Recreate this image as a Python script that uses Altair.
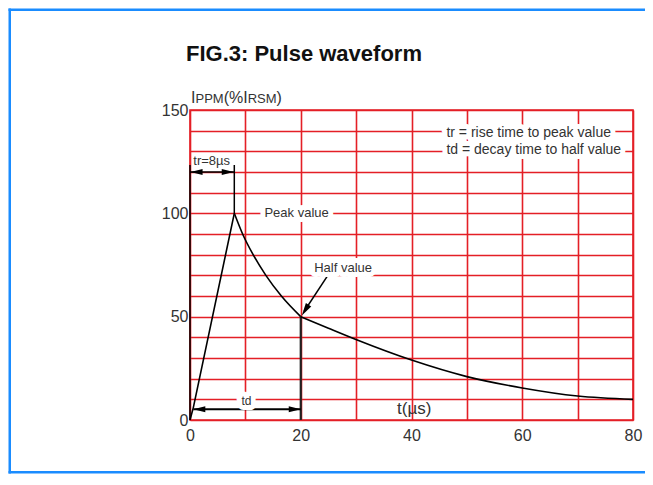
import altair as alt
import pandas as pd

FONT = "Liberation Sans"
RED = "#e41f26"
INK = "#333333"
BLUE = "#1a8cff"

# ---- data ----
rise_t = [0, 0.6, 8]
rise_v = [0, 6, 100]
decay1_t = [8, 9.5, 11.4, 13.7, 16.5, 20]
decay1_v = [100, 90, 80, 70, 60, 50]
decay2_t = [20, 25, 30.2, 40, 50, 60, 70, 80]
decay2_v = [50, 44.4, 38.7, 29, 21, 15.5, 11.6, 10]

x_ticks = list(range(0, 81, 10))
y_ticks = list(range(0, 151, 10))

tr_value = 8      # rise time, µs
td_value = 20     # decay time to half value, µs
peak_value = 100
half_value = 50
bracket_top = 123.4
tr_arrow_y = 120
td_arrow_y = 5.2

PAD_L, PAD_T, W, H, PAD_R, PAD_B = 182, 102, 443, 310, 12, 54

xs = alt.Scale(domain=[0, 80], nice=False, zero=False)
ys = alt.Scale(domain=[0, 150], nice=False, zero=False)

x_axis = alt.Axis(values=x_ticks, grid=True, gridColor=RED, gridWidth=1.6, gridOpacity=1,
                  domain=False, ticks=False, labelFlush=False, labelOverlap=False,
                  labelExpr="datum.value % 20 == 0 ? datum.label : ''",
                  labelFont=FONT, labelFontSize=16, labelColor=INK, labelPadding=7, title=None)
y_axis = alt.Axis(values=y_ticks, grid=True, gridColor=RED, gridWidth=1.6, gridOpacity=1,
                  domain=False, ticks=False, labelFlush=False, labelOverlap=False,
                  labelExpr="datum.value % 50 == 0 ? datum.label : ''",
                  labelFont=FONT, labelFontSize=16, labelColor=INK, labelPadding=2, title=None)

def X(field="x"):
    return alt.X(f"{field}:Q", scale=xs, axis=x_axis)

def Y(field="y"):
    return alt.Y(f"{field}:Q", scale=ys, axis=y_axis)

layers = []

# outer blue frame (decoration: top, left, bottom bands; right edge is off-picture)
one = pd.DataFrame({"a": [0]})
fl, ft, fb = -(PAD_L - 0.5), -(PAD_T - 0.5), H + PAD_B - 0.5
fw = 2.5
for x1, x2, y1, y2 in [(fl, 2000, ft, ft + fw), (fl, 2000, fb - fw, fb), (fl, fl + fw, ft, fb)]:
    layers.append(alt.Chart(one).mark_rect(color=BLUE, strokeWidth=0).encode(
        x=alt.value(x1), x2=alt.value(x2), y=alt.value(y1), y2=alt.value(y2)))

def text_layer(t, x, y, size, color=INK, halo=False, align="left", baseline="middle",
               weight="normal", dx=0):
    df = pd.DataFrame({"x": [x], "y": [y], "t": [t]})
    base = alt.Chart(df).encode(x=X(), y=Y(), text="t:N")
    out = []
    if halo:
        out.append(base.mark_text(font=FONT, fontSize=size, align=align, baseline=baseline,
                                  fill="white", stroke="white", strokeWidth=10,
                                  strokeJoin="round", dx=dx, fontWeight=weight))
    out.append(base.mark_text(font=FONT, fontSize=size, align=align, baseline=baseline,
                              color=color, dx=dx, fontWeight=weight))
    return out

def vrule(x, y1, y2, width=1.5, color="black"):
    df = pd.DataFrame({"x": [x], "y": [y1], "y2": [y2]})
    return alt.Chart(df).mark_rule(color=color, strokeWidth=width).encode(
        x=X(), y=Y(), y2="y2:Q")

def seg(x1, y1, x2, y2, width=1.5):
    df = pd.DataFrame({"x": [x1], "y": [y1], "x2": [x2], "y2": [y2]})
    return alt.Chart(df).mark_rule(color="black", strokeWidth=width).encode(
        x=X(), y=Y(), x2="x2:Q", y2="y2:Q")

LEFT_HEAD = "M0,0L2,-0.5L2,0.5Z"
RIGHT_HEAD = "M0,0L-2,-0.5L-2,0.5Z"

def head(x, y, shape, angle=0, size=144):
    df = pd.DataFrame({"x": [x], "y": [y]})
    return alt.Chart(df).mark_point(shape=shape, filled=True, size=size, color="black",
                                    opacity=1, angle=angle).encode(x=X(), y=Y())

layers.append(vrule(0, 0, bracket_top, 1.5))
layers.append(vrule(tr_value, peak_value, bracket_top, 1.5))
layers.append(vrule(td_value, 0, half_value, 2.2, "#222222"))

# arrows
layers.append(seg(0, tr_arrow_y, tr_value, tr_arrow_y, 1.5))
layers.append(head(0.1, tr_arrow_y, LEFT_HEAD))
layers.append(head(tr_value - 0.1, tr_arrow_y, RIGHT_HEAD))
layers.append(seg(0.6, td_arrow_y, td_value, td_arrow_y, 2))
layers.append(head(0.6, td_arrow_y, LEFT_HEAD))
layers.append(head(td_value, td_arrow_y, RIGHT_HEAD))
layers.append(seg(24.95, 70.2, 20.6, 52.5, 1.5))
layers.append(head(20.2, 50.6, LEFT_HEAD, angle=302, size=160))

# waveform
for tt, vv, interp in [(rise_t, rise_v, "linear"), (decay1_t, decay1_v, "monotone"),
                       (decay2_t, decay2_v, "monotone")]:
    df = pd.DataFrame({"x": tt, "y": vv})
    layers.append(alt.Chart(df).mark_line(color="black", strokeWidth=1.6,
                                          interpolate=interp).encode(x=X(), y=Y()))

# texts
layers += text_layer("FIG.3: Pulse waveform", 0, 173.7, 22, color="#111111",
                     baseline="alphabetic", weight="bold", dx=-4)
ytitle_pieces = [("I", 16, 1), ("PPM", 13, 5.5), ("(%", 16, 33.7), ("I", 16, 53.3),
                 ("RSM", 13, 57.7), (")", 16, 86.6)]
for t, s, d in ytitle_pieces:
    layers += text_layer(t, 0, 153.4, s, color=INK, baseline="alphabetic", dx=d)

layers += text_layer("tr=8µs", 0.6, 125.5, 13)
layers += text_layer("td", 10.2, 9.2, 12, halo=True, align="center")
layers += text_layer("Peak value", 19.25, 100, 13, halo=True, align="center")
layers += text_layer("Half value", 27.65, 73.4, 13, halo=True, align="center")
layers += text_layer("t(µs)", 40.5, 5.2, 17, align="center")
layers += text_layer("tr = rise time to peak value", 46.3, 139, 14, halo=True)
layers += text_layer("td = decay time to half value", 46.3, 130.6, 14, halo=True)

chart = alt.layer(*layers).properties(
    width=W, height=H,
    autosize=alt.AutoSizeParams(type="none"),
    padding={"left": PAD_L, "top": PAD_T, "right": PAD_R, "bottom": PAD_B},
    background="white",
).configure_view(stroke=RED, strokeWidth=1.6)

chart.save("out.html", embed_options={"renderer": "svg", "actions": False})
